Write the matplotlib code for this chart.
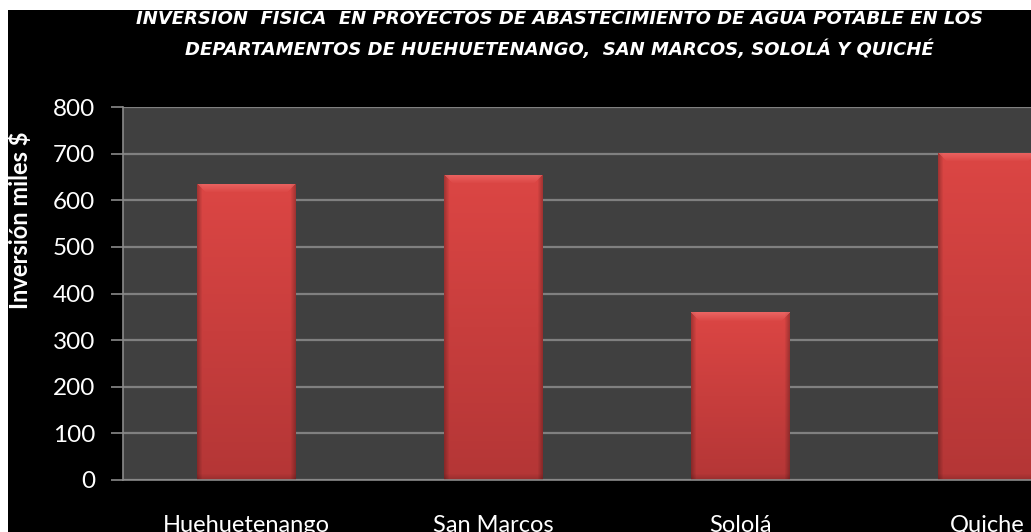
import numpy as np
import matplotlib
matplotlib.use("Agg")
import matplotlib.pyplot as plt
from matplotlib.patches import Rectangle

categories = ["Huehuetenango", "San Marcos", "Sololá", "Quiche"]
values = [635, 655, 360, 702]
yticks = [0, 100, 200, 300, 400, 500, 600, 700, 800]
title_lines = ["INVERSIÓN  FÍSICA  EN PROYECTOS DE ABASTECIMIENTO DE AGUA POTABLE EN LOS",
               "DEPARTAMENTOS DE HUEHUETENANGO,  SAN MARCOS, SOLOLÁ Y QUICHÉ"]
ylabel = "Inversión miles $"

W, H = 1031, 532
fig = plt.figure(figsize=(W / 100, H / 100), dpi=100, facecolor="black")

left, right, top, bottom = 123, 123 + 4 * 247, 107, 480
ax = fig.add_axes([left / W, (H - bottom) / H, (right - left) / W, (bottom - top) / H])
ax.set_facecolor("#404040")

x = np.arange(len(categories))
bw = 0.4
bars = ax.bar(x, values, width=bw, color="#d84444", zorder=3, edgecolor="none")

px_per_unit = (bottom - top) / 800.0
for rect, v in zip(bars, values):
    hpx = max(int(v * px_per_unit), 10)
    wpx = 98
    t = np.linspace(0, 1, hpx)[:, None]
    top_c = np.array([220, 70, 68]) / 255
    bot_c = np.array([180, 54, 54]) / 255
    img = top_c[None, None, :] * (1 - t[..., None]) + bot_c[None, None, :] * t[..., None]
    img = np.repeat(img, wpx, axis=1)
    cols = np.arange(wpx)
    side = np.minimum(cols, wpx - 1 - cols)
    shade = np.clip(side / 5.0, 0, 1) * 0.25 + 0.75
    img = img * shade[None, :, None]
    hl = np.array([245, 120, 118]) / 255
    for r in range(min(9, hpx)):
        lo, hi = r, wpx - r
        f = 1 - r / 9.0
        img[r, lo:hi] = img[r, lo:hi] * (1 - 0.6 * f) + hl * 0.6 * f
    for r in range(min(6, hpx)):
        rr = hpx - 1 - r
        img[rr] = img[rr] * (0.85 + 0.025 * r)
    img = np.clip(img, 0, 1)
    x0 = rect.get_x()
    im = ax.imshow(img, extent=(x0, x0 + rect.get_width(), 0, v), aspect="auto",
                   zorder=4, interpolation="bilinear")
    im.set_clip_path(rect)

ax.set_xlim(-0.5, len(categories) - 0.5)
ax.set_ylim(0, 800)
ax.set_yticks(yticks)
ax.grid(axis="y", color="#808080", linewidth=1.6, zorder=1)
ax.set_axisbelow(True)
for s in ["top", "right"]:
    ax.spines[s].set_visible(False)
for s in ["left", "bottom"]:
    ax.spines[s].set_color("#8a8a8a")
    ax.spines[s].set_linewidth(1.2)
    ax.spines[s].set_zorder(5)
ax.tick_params(axis="y", colors="white", length=9, width=1.2, color="#8a8a8a",
               labelsize=17.5, pad=11)
ax.tick_params(axis="x", length=0, pad=25)
ax.set_xticks(x)
ax.set_xticklabels(categories, fontsize=17, color="white", family="Lato")
for lab in ax.get_yticklabels():
    lab.set_family("Lato")

fig.text(20 / W, 1 - 220 / H, ylabel, rotation=90, ha="center", va="center",
         color="white", fontsize=17, fontweight="bold", family="Lato")

tfam = ["DejaVu Sans"]
fig.text(559 / W, 1 - 19 / H, title_lines[0], ha="center", va="center", color="white",
         fontsize=13, fontweight="bold", fontstyle="italic", family=tfam)
fig.text(559 / W, 1 - 49 / H, title_lines[1], ha="center", va="center", color="white",
         fontsize=13, fontweight="bold", fontstyle="italic", family=tfam)
# white margins
fig.patches.append(Rectangle((0, (H - 10) / H), 1, 10 / H, transform=fig.transFigure,
                             facecolor="white", edgecolor="none", zorder=10))
fig.patches.append(Rectangle((0, 0), 8 / W, 1, transform=fig.transFigure,
                             facecolor="white", edgecolor="none", zorder=10))

fig.savefig("out.png", dpi=100, facecolor="black")
